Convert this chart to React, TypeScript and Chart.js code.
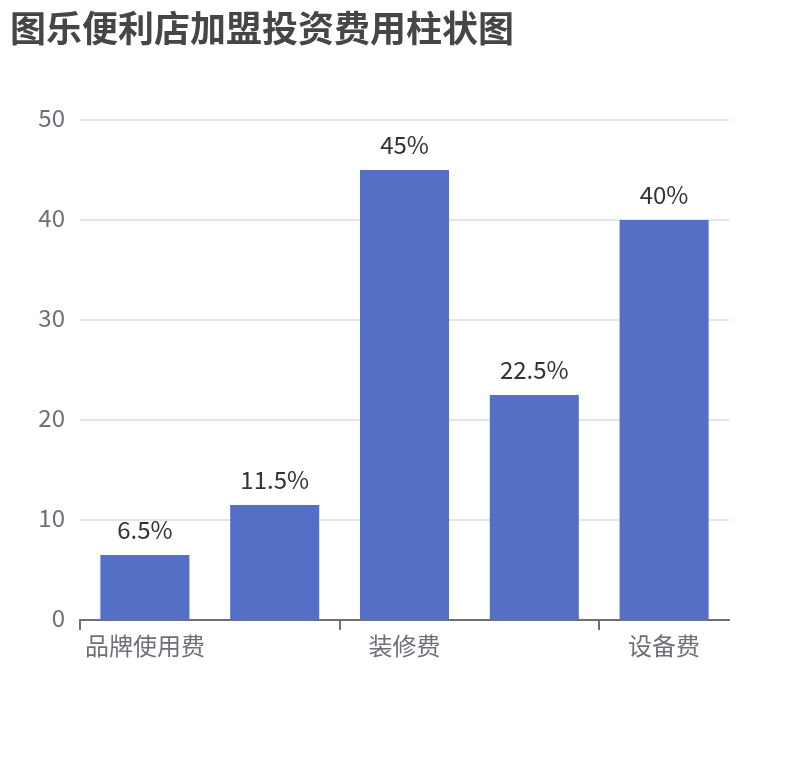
import { useEffect, useRef } from "react";
import { Chart, registerables } from "chart.js";
Chart.register(...registerables);

const TITLE = "图乐便利店加盟投资费用柱状图";
const CATEGORIES = ["品牌使用费", "加盟费", "装修费", "首批进货费", "设备费"];
const VALUES = [6.5, 11.5, 45, 22.5, 40];
const LABELS = ["6.5%", "11.5%", "45%", "22.5%", "40%"];
const Y_MIN = 0;
const Y_MAX = 50;
const Y_STEP = 10;

const FONT = "'Noto Sans CJK SC', 'Noto Sans', sans-serif";
const BAR_COLOR = "#5470c6";
const AXIS_COLOR = "#6E7079";
const GRID_COLOR = "#E0E6F1";

// draws the value labels above each bar
const barLabels = {
  id: "barLabels",
  afterDatasetsDraw(chart: Chart) {
    const { ctx } = chart;
    const meta = chart.getDatasetMeta(0);
    ctx.save();
    ctx.font = `24px ${FONT}`;
    ctx.fillStyle = "#333";
    ctx.textAlign = "center";
    ctx.textBaseline = "middle";
    meta.data.forEach((bar: any, i: number) => {
      ctx.fillText(LABELS[i], bar.x, bar.y - 25);
    });
    ctx.restore();
  },
};

export default function App() {
  const canvasRef = useRef<HTMLCanvasElement>(null);

  useEffect(() => {
    if (!canvasRef.current) return;
    const chart = new Chart(canvasRef.current, {
      type: "bar",
      data: {
        labels: CATEGORIES,
        datasets: [{
          data: VALUES,
          backgroundColor: BAR_COLOR,
          barPercentage: 0.686,
          categoryPercentage: 1,
        }],
      },
      options: {
        responsive: true,
        maintainAspectRatio: false,
        animation: false,
        layout: { padding: { top: 120, right: 81, left: 0, bottom: 0 } },
        plugins: { legend: { display: false }, tooltip: { enabled: false } },
        scales: {
          x: {
            offset: true,
            afterFit: (s: any) => { s.height = 140; },
            grid: {
              offset: true,
              drawOnChartArea: false,
              drawTicks: true,
              tickLength: 10,
              lineWidth: 2,
              color: (c: any) => ([0, 2, 4, 5].includes(c.index) ? AXIS_COLOR : "transparent"),
            },
            border: { display: true, color: AXIS_COLOR, width: 2 },
            ticks: {
              autoSkip: false,
              maxRotation: 0,
              padding: 1,
              color: AXIS_COLOR,
              font: { size: 24, family: FONT },
              callback: (_v: any, i: number) => (i % 2 === 0 ? CATEGORIES[i] : ""),
            },
          },
          y: {
            min: Y_MIN,
            max: Y_MAX,
            afterFit: (s: any) => { s.width = 80; },
            grid: { color: GRID_COLOR, lineWidth: 2, drawTicks: false },
            border: { display: false },
            ticks: {
              stepSize: Y_STEP,
              padding: 15,
              labelOffset: -2,
              color: AXIS_COLOR,
              font: { size: 24, family: FONT },
            },
          },
        },
      },
      plugins: [barLabels],
    });
    return () => { chart.destroy(); };
  }, []);

  return (
    <div style={{ position: "absolute", left: 0, top: 0, width: 810, height: 760, background: "#fff" }}>
      <div style={{ position: "absolute", left: 10, top: 0, fontFamily: FONT, fontSize: 36, fontWeight: 700, color: "#464646", whiteSpace: "nowrap" }}>
        {TITLE}
      </div>
      <canvas ref={canvasRef} />
    </div>
  );
}
